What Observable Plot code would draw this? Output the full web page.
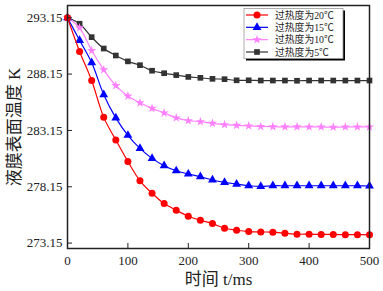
<!DOCTYPE html>
<html><head><meta charset="utf-8">
<script src="https://cdn.jsdelivr.net/npm/d3@7"></script>
<script src="https://cdn.jsdelivr.net/npm/@observablehq/plot@0.6"></script>
<style>
body{margin:0;background:#fff;}
#wrap{position:relative;width:383px;height:291px;}
#legend{position:absolute;left:0;top:0;pointer-events:none;}
</style></head><body><div id="wrap"></div>
<script>
const times = [0,20,40,60,80,100,120,140,160,180,200,220,240,260,280,300,320,340,360,380,400,420,440,460,480,500];
const seriesNames = ["过热度为20℃","过热度为15℃","过热度为10℃","过热度为5℃"];
const superheat20 = [293.15,290.16,287.58,284.31,282.30,280.40,278.68,277.58,276.66,276.07,275.53,275.18,274.88,274.47,274.29,274.17,274.14,274.12,274.03,273.94,273.94,273.92,273.92,273.90,273.90,273.88];
const superheat15 = [293.15,291.15,289.17,286.32,284.27,282.72,281.56,280.67,280.02,279.57,279.28,279.04,278.75,278.54,278.39,278.24,278.18,278.24,278.24,278.24,278.24,278.24,278.24,278.24,278.24,278.22];
const superheat10 = [293.15,292.26,290.24,288.53,287.13,286.20,285.60,285.11,284.70,284.26,284.02,283.93,283.78,283.66,283.60,283.55,283.50,283.48,283.47,283.47,283.46,283.46,283.44,283.46,283.46,283.46];
const superheat5  = [293.15,292.62,291.43,290.42,289.80,289.28,288.94,288.45,288.23,288.06,287.90,287.82,287.73,287.70,287.60,287.60,287.58,287.58,287.58,287.56,287.58,287.58,287.58,287.58,287.58,287.58];
const xTicks = [0,100,200,300,400,500];
const yTicks = [273.15,278.15,283.15,288.15,293.15];
const xLabel = "时间 t/ms";
const yLabel = "液膜表面温度 K";

const seriesValues = [superheat20, superheat15, superheat10, superheat5];
const colors = ["#ff0000","#0000ff","#ff80ff","#333333"];
const symbols = ["circle","triangle","star","square"];
const radii = [3.5, 3.3, 2.9, 3.2];

const seriesRows = seriesValues.map((vals, i) => vals.map((v, j) => ({t: times[j], v, s: seriesNames[i]})));

const marks = [];
for (let i = seriesRows.length - 1; i >= 0; i--) {
  marks.push(Plot.line(seriesRows[i], {x: "t", y: "v", stroke: colors[i], strokeWidth: 1.2, curve: "catmull-rom"}));
  marks.push(Plot.dot(seriesRows[i], {x: "t", y: "v", symbol: symbols[i], fill: colors[i], r: radii[i], stroke: "none"}));
}

const FONT = "'Liberation Serif','Noto Sans CJK SC',serif";
const chart = Plot.plot({
  width: 383, height: 291,
  marginLeft: 67, marginRight: 14, marginTop: 5, marginBottom: 43,
  style: {fontFamily: FONT, fontSize: "13px", color: "#222", background: "#fff"},
  x: {domain: [0, 500], label: null},
  y: {domain: [272.67, 294.24], label: null},
  marks: [
    ...marks,
    Plot.axisY({ticks: yTicks, tickSize: 0, tickPadding: 5, tickFormat: d => d.toFixed(2), fontSize: 13, fill: "#222"}),
    Plot.axisY({ticks: yTicks, tickSize: 5, dx: 5, tickFormat: () => "", stroke: "#222"}),
    Plot.axisX({ticks: xTicks, tickSize: 0, tickPadding: 7, fontSize: 13, fill: "#222"}),
    Plot.axisX({ticks: xTicks, tickSize: 5, dy: -5, tickFormat: () => "", stroke: "#222"}),
    Plot.frame({stroke: "#222", strokeWidth: 1.5}),
    Plot.text([yLabel], {text: d => d, frameAnchor: "left", dx: -53, rotate: -90, textAnchor: "middle", lineAnchor: "middle", fontSize: 17, fill: "#222", fontFamily: FONT}),
    Plot.text([xLabel], {text: d => d, frameAnchor: "bottom", dy: 31, textAnchor: "middle", lineAnchor: "middle", fontSize: 17, fill: "#222", fontFamily: FONT})
  ]
});
const wrap = document.getElementById("wrap");
wrap.appendChild(chart);

// Legend overlay
const lg = d3.select(wrap).append("svg").attr("id", "legend").attr("width", 383).attr("height", 291);
const bx = 244, by = 8.5, bw = 99, bh = 50;
lg.append("rect").attr("x", bx + 2).attr("y", by + 2).attr("width", bw).attr("height", bh).attr("fill", "#000");
lg.append("rect").attr("x", bx).attr("y", by).attr("width", bw).attr("height", bh).attr("fill", "#fff").attr("stroke", "#999").attr("stroke-width", 0.8);
const symMap = {circle: d3.symbolCircle, triangle: d3.symbolTriangle, star: d3.symbolStar, square: d3.symbolSquare};
seriesNames.forEach((name, i) => {
  const cy = by + 6.5 + i * 12.33;
  lg.append("line").attr("x1", bx + 2).attr("x2", bx + 24).attr("y1", cy).attr("y2", cy).attr("stroke", colors[i]).attr("stroke-width", 1.2);
  lg.append("path").attr("d", d3.symbol(symMap[symbols[i]], Math.PI * radii[i] * radii[i])()).attr("transform", `translate(${bx + 13},${cy})`).attr("fill", colors[i]);
  lg.append("text").attr("x", bx + 31).attr("y", cy).attr("dy", "0.36em").attr("font-size", 9.8).attr("fill", "#222")
    .attr("font-family", FONT).text(name);
});
</script></body></html>
